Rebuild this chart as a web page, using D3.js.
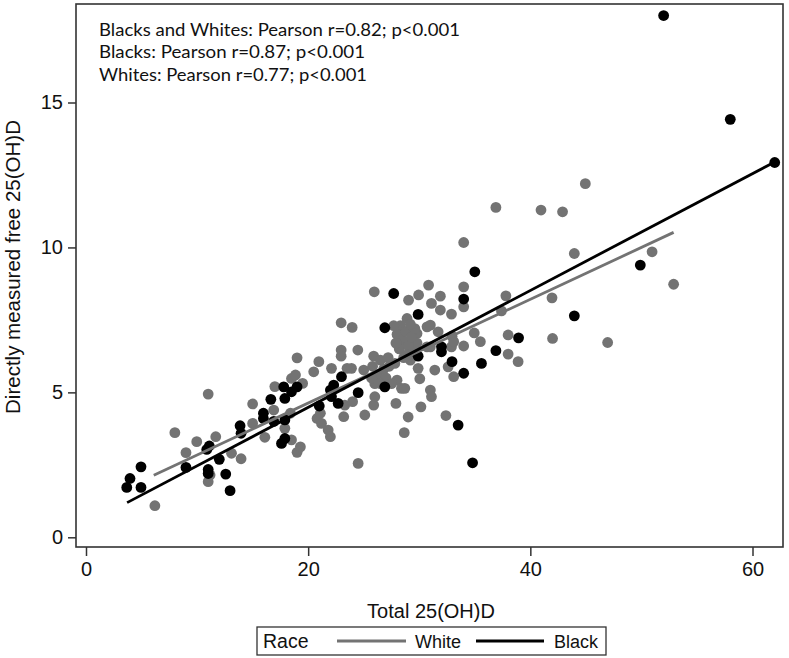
<!DOCTYPE html>
<html>
<head>
<meta charset="utf-8">
<script src="https://cdn.jsdelivr.net/npm/d3@7"></script>
<style>
  body { margin: 0; background: #fff; }
  svg { display: block; font-family: "Liberation Sans", Arial, sans-serif; }
</style>
</head>
<body>
<svg id="chart" width="789" height="658"></svg>
<script>
// Total 25(OH)D vs directly measured free 25(OH)D, by race
const whitePoints = [
  [6.2,1.09],[8.0,3.61],[9.0,2.92],[9.97,3.30],[11.0,4.94],[11.0,1.92],[11.17,2.15],[11.68,3.47],
  [13.1,2.90],[13.96,2.71],[15.0,4.6],[15.0,3.93],[16.1,3.45],[16.9,4.39],[17.0,5.2],[17.9,3.76],
  [18.4,4.28],[18.5,3.36],[18.5,5.48],[18.86,5.6],[19.0,6.19],[19.0,2.93],[19.3,3.12],[19.5,5.31],
  [20.5,5.71],[20.8,4.1],[20.96,6.06],[21.1,4.28],[21.2,3.93],[21.8,3.7],[22.0,3.47],[22.1,5.83],
  [22.97,7.4],[22.97,6.46],[22.97,6.25],[23.2,4.16],[23.3,4.56],[23.5,5.83],[23.9,5.83],[23.96,7.24],
  [24.0,4.68],[24.47,6.46],[24.5,2.55],[25.0,5.77],[25.1,4.22],[25.9,6.25],[25.9,4.56],[25.95,8.47],
  [26.0,4.85],[26.5,6.11],[27.9,4.62],[28.0,5.42],[28.1,7.2],[28.3,7.3],[28.4,5.14],[28.65,3.61],
  [28.7,5.14],[28.9,7.55],[28.9,6.69],[29.0,4.15],[29.04,8.18],[29.2,6.11],[29.5,6.46],[29.8,7.03],
  [29.8,6.7],[29.9,5.83],[29.94,8.36],[30.05,5.47],[30.15,4.5],[30.7,7.26],[30.7,6.57],[30.84,8.7],
  [31.0,7.32],[31.0,6.57],[31.0,5.08],[31.1,8.07],[31.1,4.85],[31.4,5.77],[31.7,7.09],[31.9,8.32],
  [31.9,7.84],[32.4,4.2],[32.6,5.88],[32.9,7.7],[32.9,6.57],[32.95,6.94],[33.1,6.75],[33.1,5.54],
  [34.0,10.17],[34.0,8.64],[34.0,7.95],[34.0,6.6],[34.95,7.05],[35.5,6.75],[36.9,11.38],[37.4,7.81],
  [37.8,8.33],[38.0,6.98],[38.0,6.32],[38.9,6.06],[40.96,11.29],[41.95,8.26],[42.0,6.86],[42.9,11.23],
  [43.96,9.79],[44.95,12.2],[46.96,6.72],[50.96,9.85],[52.9,8.73],
  // dense band around 26-30
  [27.7,7.3],[28.0,7.0],[28.5,6.8],[28.2,6.5],[28.8,7.1],[29.0,6.6],[29.3,6.9],[28.6,6.2],
  [29.6,7.2],[27.9,6.7],[28.9,6.3],[29.2,7.35],
  [25.8,5.9],[26.2,5.6],[26.8,5.8],[27.0,5.5],[27.3,5.9],[27.5,5.3],[26.5,5.3],[27.8,6.0],
  [26.0,5.3],[27.2,6.2],[25.7,5.5]
];

const blackPoints = [
  [3.67,1.72],[3.96,2.03],[4.95,2.43],[4.95,1.72],[9.0,2.41],[10.87,3.03],[11.1,3.15],[11.0,2.34],
  [11.0,2.2],[12.0,2.69],[12.58,2.18],[12.97,1.61],[13.87,3.85],[13.96,3.59],[15.97,4.28],[15.97,4.1],
  [16.64,4.76],[16.9,4.0],[17.6,3.24],[17.9,3.41],[17.8,5.19],[17.9,4.79],[17.9,4.05],[18.5,5.02],
  [19.0,5.19],[21.0,4.53],[22.0,5.08],[22.1,4.85],[22.3,5.25],[22.7,4.62],[23.0,5.54],[24.5,4.99],
  [26.9,5.19],[26.9,7.23],[27.7,8.41],[29.9,7.69],[29.9,6.25],[32.0,6.57],[32.0,6.4],[32.95,6.06],
  [33.5,3.87],[34.0,8.22],[34.0,5.66],[34.8,2.57],[35.0,9.16],[35.6,6.0],[36.9,6.44],[38.94,6.88],
  [43.96,7.64],[49.9,9.39],[52,18.0],[58,14.42],[62,12.93]
];

// linear fits
const fitRace = ["White", "Black"];
const fitIntercept = [1.05, 0.45];
const fitSlope = [0.179, 0.2016];
const fitFrom = [6.1, 3.7];
const fitTo = [52.9, 62];

const xTicks = [0, 20, 40, 60];
const yTicks = [0, 5, 10, 15];
const notes = [
  "Blacks and Whites: Pearson r=0.82; p<0.001",
  "Blacks: Pearson r=0.87; p<0.001",
  "Whites: Pearson r=0.77; p<0.001"
];
const noteWidths = [361, 266, 268];

const colors = { White: "#737373", Black: "#000000" };

const svg = d3.select("#chart");
const frame = { left: 76, right: 783, top: 4, bottom: 547 };

const x = d3.scaleLinear().domain([0, 60]).range([86, 752.5]);
const y = d3.scaleLinear().domain([0, 15]).range([537.3, 102.5]);

// points
function drawPoints(data, color) {
  svg.append("g").selectAll("circle").data(data).enter().append("circle")
    .attr("cx", d => x(d[0]))
    .attr("cy", d => y(d[1]))
    .attr("r", 5.4)
    .attr("fill", color);
}
drawPoints(whitePoints, colors.White);
drawPoints(blackPoints, colors.Black);

// fit lines
fitRace.forEach((race, i) => {
  const f = v => fitIntercept[i] + fitSlope[i] * v;
  svg.append("line")
    .attr("x1", x(fitFrom[i])).attr("y1", y(f(fitFrom[i])))
    .attr("x2", x(fitTo[i])).attr("y2", y(f(fitTo[i])))
    .attr("stroke", colors[race])
    .attr("stroke-width", 2.8);
});

// frame
svg.append("rect")
  .attr("x", frame.left).attr("y", frame.top)
  .attr("width", frame.right - frame.left).attr("height", frame.bottom - frame.top)
  .attr("fill", "none").attr("stroke", "#333").attr("stroke-width", 1.6);

// axes
const xAxis = svg.append("g")
  .attr("transform", `translate(0,${frame.bottom})`)
  .call(d3.axisBottom(x).tickValues(xTicks).tickSize(9).tickPadding(6));
const yAxis = svg.append("g")
  .attr("transform", `translate(${frame.left},0)`)
  .call(d3.axisLeft(y).tickValues(yTicks).tickSize(8).tickPadding(5));
[xAxis, yAxis].forEach(a => {
  a.select(".domain").remove();
  a.selectAll(".tick line").attr("stroke", "#333").attr("stroke-width", 1.5);
  a.selectAll(".tick text").attr("fill", "#111").style("font-size", "20px")
    .style("font-family", '"Liberation Sans", Arial, sans-serif');
});

// axis titles
svg.append("text")
  .attr("x", 431).attr("y", 618)
  .attr("text-anchor", "middle")
  .style("font-size", "20px").attr("fill", "#111")
  .text("Total 25(OH)D");
svg.append("text")
  .attr("transform", "translate(20,267) rotate(-90)")
  .attr("text-anchor", "middle")
  .style("font-size", "20.5px").attr("fill", "#111")
  .text("Directly measured free 25(OH)D");

// correlation notes
notes.forEach((t, i) => {
  svg.append("text")
    .attr("x", 99).attr("y", 36 + i * 22.4)
    .attr("textLength", noteWidths[i])
    .attr("lengthAdjust", "spacingAndGlyphs")
    .style("font-family", "Lato, 'Open Sans', sans-serif")
    .style("font-size", "18px").attr("fill", "#111")
    .text(t);
});

// legend
const lg = svg.append("g");
lg.append("rect")
  .attr("x", 257).attr("y", 627).attr("width", 349).attr("height", 28)
  .attr("fill", "#fff").attr("stroke", "#333").attr("stroke-width", 1.3);
lg.append("text").attr("x", 263).attr("y", 648)
  .style("font-size", "19.5px").attr("fill", "#111").text("Race");
const legendItems = [
  { race: "White", x1: 337, x2: 406, tx: 415 },
  { race: "Black", x1: 476, x2: 544, tx: 554 }
];
legendItems.forEach(d => {
  lg.append("line").attr("x1", d.x1).attr("x2", d.x2).attr("y1", 641).attr("y2", 641)
    .attr("stroke", colors[d.race]).attr("stroke-width", 3);
  lg.append("text").attr("x", d.tx).attr("y", 648)
    .style("font-size", "18px").attr("fill", "#111").text(d.race);
});
</script>
</body>
</html>
